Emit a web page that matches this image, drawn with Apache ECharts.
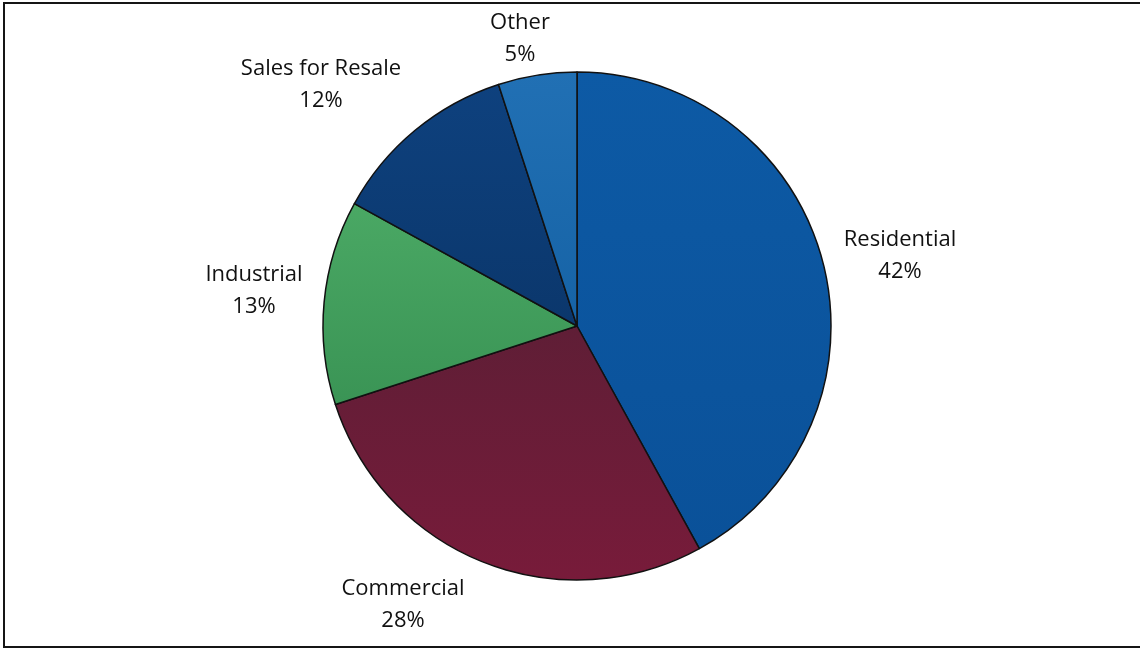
<!DOCTYPE html>
<html>
<head>
<meta charset="utf-8">
<title>Sales by Customer Class</title>
<script src="https://cdn.jsdelivr.net/npm/echarts@6/dist/echarts.min.js"></script>
<style>
  html, body { margin: 0; padding: 0; background: #ffffff; }
  #chart { width: 1140px; height: 650px; }
</style>
</head>
<body>
<div id="chart"></div>
<script>
// Share of sales by customer class (percent)
const categories = ['Residential', 'Commercial', 'Industrial', 'Sales for Resale', 'Other'];
const shares = [42, 28, 13, 12, 5];

// Slice fills (top, bottom of a soft vertical gradient)
const sliceColors = {
  'Residential':      ['#0d5aa5', '#0a5199'],
  'Commercial':       ['#5f1e36', '#781b3a'],
  'Industrial':       ['#4aa864', '#3a9455'],
  'Sales for Resale': ['#0e417e', '#0b376c'],
  'Other':            ['#2170b4', '#1663a6']
};

// Pie geometry (px)
const pieCenter = [577, 326];
const pieRadius = 254;

// Label placement around the pie, relative to its centre
const labelOffset = {
  'Residential':      [323, -70],
  'Commercial':       [-174, 279],
  'Industrial':       [-323, -35],
  'Sales for Resale': [-256, -241],
  'Other':            [-57, -287]
};

const chart = echarts.init(document.getElementById('chart'), null, { renderer: 'canvas' });

const pieData = categories.map((name, i) => ({
  name,
  value: shares[i],
  itemStyle: {
    color: {
      type: 'linear', x: 0, y: 0, x2: 0, y2: 1,
      colorStops: [
        { offset: 0, color: sliceColors[name][0] },
        { offset: 1, color: sliceColors[name][1] }
      ]
    }
  }
}));

chart.setOption({
  backgroundColor: '#ffffff',
  animation: false,
  graphic: [{
    // chart frame: top, left and bottom edges
    type: 'polyline',
    shape: { points: [[1140, 3], [4, 3], [4, 647], [1140, 647]] },
    style: { fill: null, stroke: '#151515', lineWidth: 2 },
    silent: true,
    z: 100
  }],
  series: [{
    type: 'pie',
    center: pieCenter,
    radius: [0, pieRadius],
    startAngle: 90,
    clockwise: true,
    avoidLabelOverlap: false,
    data: pieData,
    itemStyle: { borderColor: '#111111', borderWidth: 1.5 },
    label: {
      show: true,
      position: 'outside',
      formatter: p => p.name + '\n' + Math.round(p.percent) + '%',
      fontFamily: '"Open Sans", Lato, sans-serif',
      fontSize: 22,
      lineHeight: 32,
      color: '#111111',
      align: 'center'
    },
    labelLine: { show: false },
    labelLayout: params => {
      const name = categories[params.dataIndex];
      const off = labelOffset[name];
      return {
        x: pieCenter[0] + off[0],
        y: pieCenter[1] + off[1],
        align: 'center',
        verticalAlign: 'middle'
      };
    },
    emphasis: { disabled: true }
  }]
});
</script>
</body>
</html>
